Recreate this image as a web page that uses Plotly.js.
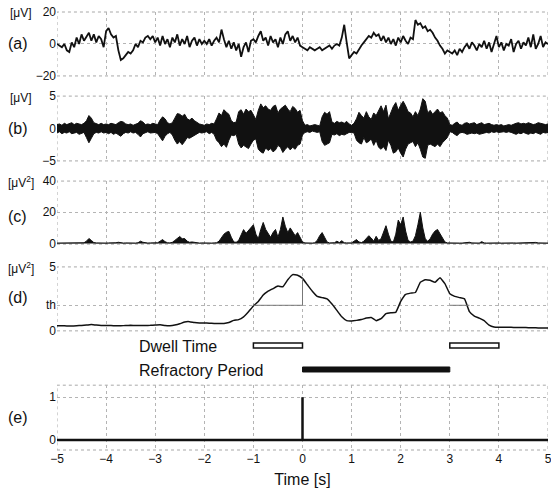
<!DOCTYPE html>
<html>
<head>
<meta charset="utf-8">
<script src="https://cdn.plot.ly/plotly-3.0.1.min.js"></script>
<style>html,body{margin:0;padding:0;background:#fff;}#chart{width:551px;height:491px;}</style>
</head>
<body>
<div id="chart"></div>
<script>
// ---- Time bases ----
const tStart = -5, tStep = 0.05, tStepD = 0.1;

// (a) raw EEG [uV], sampled every 0.05 s from -5 to 5
const aValues = [
  0, -1, -2, 0, -4, -5, 1, -2, 4, 0, 6, 2, 5, 7, 2, 6, 1, 5, 3, -2,
  8, 10, 6, 4, 5, -4, -10, -9, -7, -5, -6, -4, 0, -2, 2, 1, 4, 5, 3, 5,
  1, 4, -1, 5, 0, 3, -2, 4, 1, 6, -1, 3, 0, 5, -2, 2, 4, -1, 3, 0,
  2, 0, 3, -1, 2, 4, 1, 9, 3, -2, 2, -3, 1, -4, 0, -8, -2, 1, -5, 2,
  3, 1, 5, 8, 2, 4, -1, 5, 1, 3, -2, 4, 0, 6, 8, 2, 5, 1, 4, -1,
  -2, -3, -4, -2, -3, -4, -3, -2, -4, -3, -2, -1, -3, -1, 0, -1, 4, 12, 1, -9,
  -7, -5, -6, -3, -1, 1, 3, 5, 4, 7, 5, 6, 2, 5, 1, 4, 0, 3, -1, 4,
  1, 5, 2, 0, 4, 3, 15, 12, 13, 10, 11, 8, 9, 7, 4, 2, -1, -3, -6, -4,
  -5, -6, -4, -7, -3, -5, -2, 0, -3, 1, -1, -4, 0, -2, 2, -3, 1, -5, 0, 5,
  -2, 1, -4, 0, -1, 3, -5, 0, 2, -3, 1, -1, 4, -2, 6, -3, 0, 5, -2, 1, 0
];

// (b) band-passed signal [uV]: upper and lower envelope of the oscillation
const bUpper = [
  0.6, 0.7, 0.5, 0.8, 0.6, 0.7, 0.9, 0.6, 0.8, 0.7, 0.6, 0.8, 1.2, 2.0, 1.6, 0.9, 0.7, 0.6, 0.8, 0.6,
  0.7, 0.6, 0.8, 0.7, 0.6, 0.9, 1.1, 1.0, 0.7, 0.6, 0.7, 0.5, 0.6, 0.8, 1.2, 1.0, 0.6, 0.7, 0.6, 0.8,
  0.7, 0.6, 1.3, 1.8, 1.5, 0.9, 0.7, 0.9, 1.6, 2.3, 2.2, 1.9, 2.2, 1.5, 1.3, 1.6, 1.2, 0.9, 0.7, 0.6,
  0.5, 0.7, 0.6, 0.8, 0.7, 1.5, 2.4, 2.0, 2.9, 2.5, 2.2, 1.2, 0.9, 1.0, 2.6, 2.9, 2.2, 3.0, 2.6, 2.8,
  2.0, 1.4, 2.8, 3.8, 3.2, 3.5, 3.0, 2.8, 3.4, 3.6, 2.4, 3.0, 3.3, 3.6, 3.0, 2.6, 3.4, 3.1, 2.5, 2.8,
  1.2, 0.5, 0.6, 0.4, 0.5, 0.6, 0.5, 0.4, 1.8, 2.5, 2.2, 2.6, 1.0, 0.8, 1.1, 0.9, 1.0, 0.8, 1.1, 0.7,
  0.5, 0.8, 1.5, 2.5, 2.0, 1.6, 2.6, 1.8, 1.4, 2.4, 2.0, 2.8, 3.5, 2.6, 3.6, 1.5, 2.4, 3.4, 4.0, 2.8,
  3.6, 4.2, 3.5, 2.6, 2.4, 1.8, 2.6, 2.0, 3.0, 4.6, 4.2, 2.4, 2.8, 2.2, 2.6, 3.0, 2.4, 2.6, 2.0, 1.6,
  0.6, 0.5, 0.8, 1.0, 0.6, 0.5, 0.8, 0.9, 0.7, 0.8, 0.9, 0.6, 0.8, 0.9, 0.6, 0.7, 0.8, 0.6, 0.5, 0.6,
  0.5, 0.6, 0.4, 0.5, 0.6, 0.5, 0.7, 0.8, 0.9, 0.7, 0.8, 0.7, 0.9, 0.8, 0.6, 0.7, 0.9, 0.8, 0.7, 0.6, 0.7
];
const bLower = [
  -0.7, -0.5, -0.8, -0.6, -0.7, -0.5, -0.8, -0.7, -0.6, -0.9, -0.7, -0.6, -1.4, -2.2, -1.5, -0.8, -0.6, -0.7, -0.5, -0.7,
  -0.6, -0.8, -0.6, -0.9, -0.7, -1.0, -1.2, -0.8, -0.6, -0.7, -0.5, -0.7, -0.6, -0.9, -1.3, -0.8, -0.7, -0.5, -0.7, -0.6,
  -0.6, -0.8, -1.4, -1.9, -1.2, -0.8, -0.6, -1.0, -1.8, -2.4, -2.0, -2.5, -2.0, -1.4, -1.5, -1.3, -1.0, -0.8, -0.6, -0.7,
  -0.6, -0.5, -0.8, -0.6, -0.9, -1.8, -2.2, -2.8, -2.4, -2.9, -1.8, -1.0, -1.1, -0.9, -2.4, -3.0, -2.6, -2.8, -3.1, -2.4,
  -1.8, -1.6, -3.2, -3.6, -3.8, -3.0, -3.4, -3.1, -3.6, -3.3, -2.6, -2.9, -3.7, -3.2, -2.8, -3.3, -2.9, -3.2, -2.6, -2.4,
  -1.0, -0.6, -0.5, -0.6, -0.4, -0.5, -0.6, -0.5, -2.0, -2.6, -2.4, -2.2, -0.9, -1.0, -0.8, -1.1, -0.9, -1.0, -0.8, -0.6,
  -0.6, -0.7, -1.8, -2.2, -2.4, -1.4, -2.2, -2.0, -1.6, -2.6, -1.8, -2.9, -3.2, -2.8, -3.4, -1.8, -2.6, -3.8, -3.6, -3.0,
  -3.8, -4.4, -3.2, -2.4, -2.2, -2.0, -2.8, -2.2, -3.2, -4.4, -4.6, -2.6, -2.4, -2.6, -2.8, -2.4, -2.8, -2.2, -1.8, -1.4,
  -0.5, -0.6, -0.9, -1.1, -0.7, -0.6, -0.7, -0.9, -0.8, -0.7, -0.8, -0.7, -0.9, -0.8, -0.7, -0.6, -0.7, -0.5, -0.6, -0.5,
  -0.6, -0.5, -0.5, -0.6, -0.5, -0.6, -0.8, -0.9, -0.7, -0.8, -0.6, -0.8, -0.9, -0.7, -0.8, -0.6, -0.8, -0.9, -0.6, -0.7, -0.6
];

// (c) power [uV^2], every 0.05 s
const cValues = [
  0.3, 0.3, 0.4, 0.3, 0.3, 0.4, 0.3, 0.3, 0.4, 0.3, 0.4, 0.5, 1.5, 3.2, 2.0, 0.6, 0.4, 0.3, 0.4, 0.3,
  0.3, 0.4, 0.3, 0.4, 0.5, 0.8, 0.5, 0.3, 0.4, 0.3, 0.3, 0.4, 0.3, 0.5, 1.5, 0.8, 0.4, 0.3, 0.4, 0.3,
  0.4, 0.5, 1.5, 2.5, 1.2, 0.5, 0.4, 0.8, 2.0, 3.5, 4.5, 3.0, 3.2, 1.5, 0.8, 1.0, 0.6, 0.4, 0.3, 0.4,
  0.3, 0.3, 0.4, 0.3, 0.4, 0.5, 1.5, 3.5, 6.0, 7.2, 7.8, 4.0, 1.0, 0.8, 2.0, 5.5, 8.9, 6.5, 8.5, 10.0,
  12.0, 6.0, 3.0, 9.0, 13.5, 9.0, 6.0, 4.0, 7.0, 9.0, 4.0, 9.0, 17.0, 11.0, 7.0, 10.0, 7.5, 5.0, 7.0, 4.0,
  1.0, 0.4, 0.3, 0.4, 0.3, 0.5, 2.0, 5.0, 7.0, 4.0, 1.0, 0.4, 0.3, 0.5, 1.5, 0.6, 1.8, 0.5, 0.4, 0.3,
  0.4, 1.5, 2.5, 1.0, 0.6, 1.5, 3.0, 5.0, 3.5, 1.5, 4.6, 2.0, 3.0, 8.0, 11.4, 6.0, 1.5, 1.0, 6.0, 15.0,
  12.0, 17.0, 8.0, 2.0, 1.0, 1.5, 5.0, 12.0, 20.0, 10.0, 3.0, 1.5, 3.0, 6.0, 8.0, 9.0, 6.0, 3.0, 1.0, 0.4,
  0.3, 0.4, 0.3, 0.4, 0.3, 0.3, 0.4, 0.3, 0.8, 0.4, 0.3, 0.4, 0.3, 1.2, 0.4, 0.3, 0.4, 0.3, 0.4, 0.3,
  0.4, 0.3, 0.4, 0.3, 0.4, 0.3, 0.4, 0.3, 0.4, 0.3, 0.4, 0.3, 0.4, 0.6, 0.8, 0.7, 0.4, 0.3, 0.4, 0.3, 0.3
];

// (d) smoothed power [uV^2], every 0.1 s
const dValues = [
  0.40, 0.40, 0.39, 0.38, 0.40, 0.42, 0.45, 0.50, 0.45, 0.42,
  0.42, 0.41, 0.40, 0.40, 0.42, 0.43, 0.42, 0.41, 0.42, 0.43,
  0.45, 0.48, 0.42, 0.40, 0.45, 0.55, 0.70, 0.72, 0.65, 0.62,
  0.62, 0.60, 0.58, 0.57, 0.58, 0.66, 0.82, 0.88, 1.10, 1.50,
  1.95, 2.30, 2.80, 3.10, 3.30, 3.50, 3.45, 4.00, 4.40, 4.35,
  4.10, 3.60, 3.10, 2.70, 2.60, 2.50, 2.10, 1.60, 1.10, 0.80,
  0.78, 0.82, 0.88, 1.00, 1.05, 0.80, 0.95, 1.35, 1.42, 1.45,
  2.30, 2.85, 2.95, 3.00, 3.80, 4.00, 3.95, 3.80, 4.15, 3.70,
  2.90, 2.70, 2.60, 2.50, 1.50, 1.15, 1.00, 0.80, 0.45, 0.30,
  0.28, 0.28, 0.28, 0.27, 0.27, 0.26, 0.25, 0.24, 0.23, 0.22, 0.22
];
const threshold = 2;

// (e) stimulus trigger
const eTimes = [-5, 0, 0, 0, 5];
const eValues = [0, 0, 1, 0, 0];

// Dwell time and refractory period intervals [s]
const dwellStarts = [-1, 3];
const dwellEnds = [0, 4];
const refractoryStart = 0;
const refractoryEnd = 3;

// Tick labels
const xTicks = [-5, -4, -3, -2, -1, 0, 1, 2, 3, 4, 5];
const aTicks = [-20, 0, 20];
const bTicks = [-5, 0, 5];
const cTicks = [0, 20, 40];
const dTickVals = [0, threshold, 5];
const dTickText = ['0', 'th', '5'];
const eTicks = [0, 1];
const panelLabels = ['(a)', '(b)', '(c)', '(d)', '(e)'];
const unitLabels = ['[μV]', '[μV]', '[μV<sup>2</sup>]', '[μV<sup>2</sup>]'];

// ---- build ----
const tA = aValues.map((_, i) => +(tStart + i * tStep).toFixed(3));
const tD = dValues.map((_, i) => +(tStart + i * tStepD).toFixed(3));

const FONT = 'Liberation Sans, Arial, sans-serif';
const traces = [
  {x: tA, y: aValues, xaxis: 'x', yaxis: 'y', type: 'scatter', mode: 'lines',
   line: {color: '#111', width: 1.8}},
  {x: tA, y: bUpper, xaxis: 'x', yaxis: 'y2', type: 'scatter', mode: 'lines',
   line: {color: '#111', width: 1}},
  {x: tA, y: bLower, xaxis: 'x', yaxis: 'y2', type: 'scatter', mode: 'lines',
   fill: 'tonexty', fillcolor: '#111', line: {color: '#111', width: 1}},
  {x: tA, y: cValues, xaxis: 'x', yaxis: 'y3', type: 'scatter', mode: 'lines',
   fill: 'tozeroy', fillcolor: '#111', line: {color: '#111', width: 1}},
  {x: tD, y: dValues, xaxis: 'x', yaxis: 'y4', type: 'scatter', mode: 'lines',
   line: {color: '#111', width: 1.5, shape: 'spline', smoothing: 0.3}},
  {x: eTimes, y: eValues, xaxis: 'x', yaxis: 'y5', type: 'scatter', mode: 'lines',
   line: {color: '#111', width: 2.5}}
];

// panel domains (paper coords)
const domains = [[0.854, 1], [0.660, 0.808], [0.470, 0.614], [0.272, 0.418], [0, 0.148]];
const yRanges = [[-20, 20], [-5, 5], [-0.4, 40], [0, 5], [-0.233, 1.28]];

const gridStyle = {showgrid: true, gridcolor: '#b4b4b4', griddash: 'dot', gridwidth: 1,
  zeroline: false, showline: false, ticks: '', ticklabeloverflow: 'allow',
  tickfont: {family: FONT, size: 12, color: '#111'}};

const layout = {
  width: 551, height: 491,
  margin: {l: 57, r: 3, t: 12, b: 41},
  paper_bgcolor: '#fff', plot_bgcolor: '#fff',
  showlegend: false,
  font: {family: FONT, color: '#111'},
  xaxis: Object.assign({}, gridStyle, {domain: [0, 1], anchor: 'y5', range: [-5, 5],
    tickvals: xTicks, title: {text: 'Time [s]', font: {family: FONT, size: 16, color: '#111'}, standoff: 8}}),
  shapes: [], annotations: []
};
const yTickSets = [
  {tickvals: aTicks}, {tickvals: bTicks}, {tickvals: cTicks},
  {tickvals: dTickVals, ticktext: dTickText}, {tickvals: eTicks}
];
for (let i = 0; i < 5; i++) {
  const key = i === 0 ? 'yaxis' : 'yaxis' + (i + 1);
  layout[key] = Object.assign({}, gridStyle, yTickSets[i], {domain: domains[i], range: yRanges[i], anchor: 'x'});
  const yr = i === 0 ? 'y' : 'y' + (i + 1);
  // dotted frame
  layout.shapes.push({type: 'rect', xref: 'x', yref: yr + ' domain', x0: -5, x1: 5, y0: 0, y1: 1,
    line: {color: '#a8a8a8', width: 1, dash: 'dot'}, layer: 'below'});
  // panel label
  const midY = i === 4 ? 0.0731 : [0.929, 0.735, 0.532, 0.349][i];
  layout.annotations.push({text: panelLabels[i], xref: 'paper', yref: 'paper', x: -0.0804, y: midY,
    xanchor: 'center', yanchor: 'middle', showarrow: false, font: {family: FONT, size: 16, color: '#111'}});
  if (i < 4) {
    layout.annotations.push({text: unitLabels[i], xref: 'paper', yref: 'paper', x: -0.073, y: [0.997, 0.804, 0.612, 0.4155][i],
      xanchor: 'center', yanchor: 'middle', showarrow: false, font: {family: FONT, size: 12, color: '#111'}});
  }
}

// threshold helper lines in (d)
const dAt = t => dValues[Math.round((t - tStart) / tStepD)];
layout.shapes.push({type: 'line', xref: 'x', yref: 'y4', x0: dwellStarts[0], x1: dwellEnds[0], y0: threshold, y1: threshold,
  line: {color: '#777', width: 1}});
layout.shapes.push({type: 'line', xref: 'x', yref: 'y4', x0: dwellEnds[0], x1: dwellEnds[0], y0: threshold, y1: dAt(dwellEnds[0]),
  line: {color: '#777', width: 1}});
let cross = dwellStarts[1];
for (let k = 0; k < tD.length; k++) { if (tD[k] > dwellStarts[1] && dValues[k] < threshold) { cross = tD[k]; break; } }
layout.shapes.push({type: 'line', xref: 'x', yref: 'y4', x0: dwellStarts[1], x1: cross, y0: threshold, y1: threshold,
  line: {color: '#777', width: 1}});

// dwell time boxes and refractory bar
for (let k = 0; k < dwellStarts.length; k++) {
  layout.shapes.push({type: 'rect', xref: 'x', yref: 'paper', x0: dwellStarts[k], x1: dwellEnds[k], y0: 0.2329, y1: 0.2443,
    fillcolor: '#fff', line: {color: '#111', width: 1.5}});
}
layout.shapes.push({type: 'rect', xref: 'x', yref: 'paper', x0: refractoryStart, x1: refractoryEnd, y0: 0.1781, y1: 0.1895,
  fillcolor: '#111', line: {color: '#111', width: 1}});
layout.annotations.push({text: 'Dwell Time', xref: 'paper', yref: 'paper', x: 0.163, y: 0.2352,
  xanchor: 'left', yanchor: 'middle', showarrow: false, font: {family: FONT, size: 16, color: '#111'}});
layout.annotations.push({text: 'Refractory Period', xref: 'paper', yref: 'paper', x: 0.163, y: 0.1826,
  xanchor: 'left', yanchor: 'middle', showarrow: false, font: {family: FONT, size: 16, color: '#111'}});

Plotly.newPlot('chart', traces, layout, {displayModeBar: false, staticPlot: true});
</script>
</body>
</html>
